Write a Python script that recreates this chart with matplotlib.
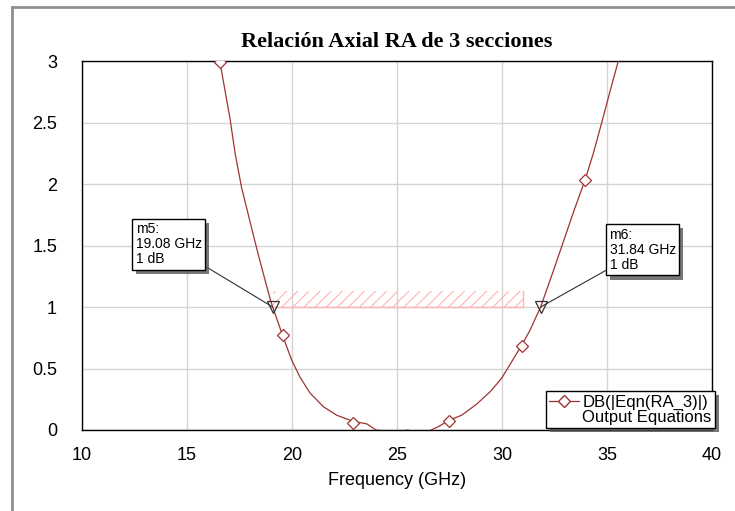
import numpy as np
import matplotlib.pyplot as plt
from matplotlib.lines import Line2D
import matplotlib.patheffects as pe

# --- data ---
freq = [16.2, 16.57, 17.05, 17.29, 17.6, 18.08, 18.24, 18.48, 18.95, 19.08,
        19.55, 19.98, 20.38, 20.86, 21.49, 22.13, 22.92, 23.56, 24.0, 24.5,
        25.0, 25.5, 26.0, 26.5, 27.0, 27.48, 28.08, 28.79, 29.43, 29.98,
        30.94, 31.33, 31.84, 32.52, 32.84, 33.4, 33.95, 34.35, 34.75, 35.14,
        35.57, 35.9]
ra_db = [3.4, 2.99, 2.53, 2.25, 1.97, 1.64, 1.53, 1.37, 1.07, 1.0,
         0.77, 0.57, 0.43, 0.3, 0.19, 0.12, 0.07, 0.05, 0.0, -0.01,
         -0.02, 0.0, -0.02, -0.01, 0.03, 0.08, 0.12, 0.21, 0.31, 0.42,
         0.69, 0.81, 1.0, 1.33, 1.49, 1.77, 2.03, 2.25, 2.5, 2.75,
         3.02, 3.2]
mark_freq = [16.57, 19.55, 22.92, 27.48, 30.94, 33.95]
mark_ra = [2.99, 0.77, 0.06, 0.07, 0.68, 2.03]

m5 = (19.08, 1.0)
m6 = (31.84, 1.0)
band_x = [19.08, 31.0]
band_y = [1.0, 1.13]

xticks = [10, 15, 20, 25, 30, 35, 40]
yticks = [0, 0.5, 1, 1.5, 2, 2.5, 3]
ytick_labels = ['0', '0.5', '1', '1.5', '2', '2.5', '3']

line_col = '#a03232'
plt.rcParams['font.family'] = ['Liberation Sans', 'DejaVu Sans']
plt.rcParams['hatch.linewidth'] = 0.8

fig = plt.figure(figsize=(7.35, 5.11), dpi=100)
ax = fig.add_axes([82 / 735, 1 - 430 / 511, 630 / 735, 369 / 511])

# hatched band between the markers
ax.fill_between(band_x, band_y[0], band_y[1], facecolor='none',
                edgecolor='#ffb4b4', hatch='///', linewidth=0, zorder=2)
ax.plot(band_x, [band_y[0]] * 2, color='#ffb4b4', lw=1, zorder=2)
ax.plot([band_x[1]] * 2, band_y, color='#ffb4b4', lw=1, zorder=2)

ax.plot(freq, ra_db, color=line_col, lw=0.9, zorder=3)
ax.plot(mark_freq, mark_ra, ls='none', marker='D', ms=6, mfc='white',
        mec=line_col, mew=0.9, zorder=4)

for pt in (m5, m6):
    ax.plot(*pt, marker='v', ms=9, mfc='none', mec='#303030', mew=0.9, zorder=5)

shadow = [pe.SimplePatchShadow(offset=(3, -3), shadow_rgbFace='#555555', alpha=0.8),
          pe.Normal()]
for pt, label, txy in ((m5, 'm5:\n19.08 GHz\n1 dB', (12.55, 1.69)),
                       (m6, 'm6:\n31.84 GHz\n1 dB', (35.12, 1.645))):
    t = ax.annotate(label, xy=pt, xytext=txy, fontsize=10, ha='left', va='top',
                    linespacing=1.1,
                    bbox=dict(boxstyle='square,pad=0.25', fc='white', ec='black', lw=1),
                    arrowprops=dict(arrowstyle='-', color='#303030', lw=0.8,
                                    shrinkA=0, shrinkB=0),
                    zorder=6, annotation_clip=False)
    t.get_bbox_patch().set_path_effects(shadow)

ax.set_xlim(10, 40)
ax.set_ylim(0, 3)
ax.set_xticks(xticks)
ax.set_yticks(yticks)
ax.set_yticklabels(ytick_labels)
ax.tick_params(length=0, labelsize=13, pad=18)
ax.tick_params(axis='x', pad=12)
ax.grid(True, color='#d4d4d4', lw=1)
ax.set_axisbelow(True)
for s in ax.spines.values():
    s.set_color('black')
    s.set_linewidth(1)
ax.set_xlabel('Frequency (GHz)', fontsize=13, labelpad=6)

fig.text(397 / 735, 1 - 42 / 511, 'Relación Axial RA de 3 secciones',
         ha='center', va='center', fontsize=16, fontweight='bold',
         family='Liberation Serif')

# legend
handles = [Line2D([], [], color=line_col, lw=0.9, marker='D', ms=6,
                  mfc='white', mec=line_col),
           Line2D([], [], color='none')]
leg = ax.legend(handles, ['DB(|Eqn(RA_3)|)', 'Output Equations'],
                loc='lower right', bbox_to_anchor=(715 / 735, 1 - 428 / 511),
                bbox_transform=fig.transFigure, borderaxespad=0,
                fontsize=12, handlelength=1.8, handletextpad=0.2,
                labelspacing=0.0, borderpad=0.2, fancybox=False,
                frameon=True, framealpha=1, edgecolor='black')
leg.get_frame().set_linewidth(1)
leg.get_frame().set_path_effects(shadow)
leg.set_zorder(7)

# outer frame of the picture
fig.add_artist(Line2D([12 / 735, 12 / 735], [0, 1 - 7 / 511], color='#909090', lw=2))
fig.add_artist(Line2D([12 / 735, 1], [1 - 7 / 511, 1 - 7 / 511], color='#909090', lw=2))

fig.savefig('out.png', dpi=100)
